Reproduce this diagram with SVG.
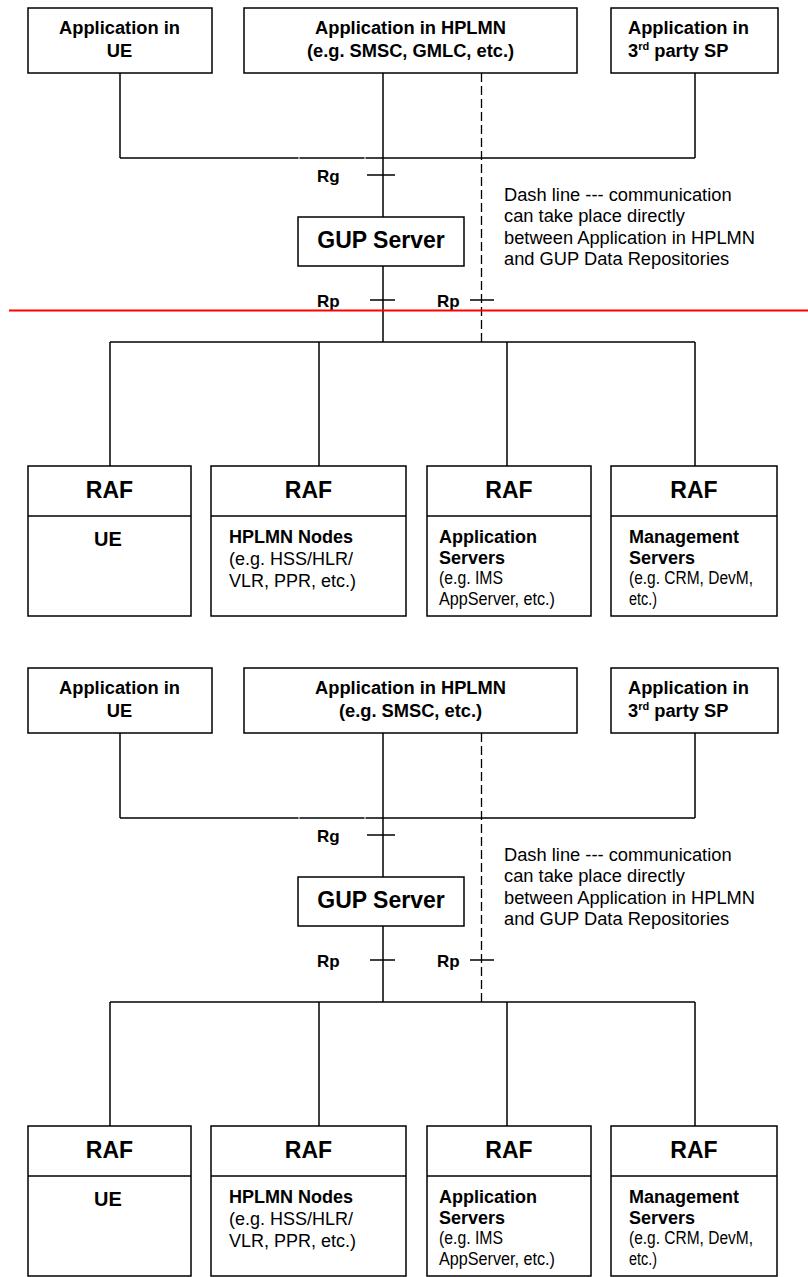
<svg xmlns="http://www.w3.org/2000/svg" width="808" height="1277" viewBox="0 0 808 1277">
<style>
.box{fill:#fff;stroke:#000;stroke-width:1.5}
.ln{stroke:#000;stroke-width:1.5;fill:none}
.dash{stroke:#000;stroke-width:1.3;stroke-dasharray:9 4;fill:none}
text{font-family:"Liberation Sans",Arial,sans-serif;fill:#000}
.t{font-size:18.3px;font-weight:bold}
.c{text-anchor:middle}
.g{font-size:23px;font-weight:bold}
.r{font-size:23px;font-weight:bold}
.u{font-size:20px;font-weight:bold}
.b{font-size:18px;font-weight:bold}
.n{font-size:18px}
.s{font-size:17.5px}
.d{font-size:18.3px}
.lab{font-size:17px;font-weight:bold}
</style>
<!-- ===== Top diagram ===== -->
<g id="connectors-top">
<line class="ln" x1="120" y1="73" x2="120" y2="158"/>
<line class="ln" x1="695" y1="73" x2="695" y2="158"/>
<line class="ln" x1="120" y1="158" x2="298.5" y2="158"/>
<line class="ln" x1="299.5" y1="158" x2="364.5" y2="158"/>
<line class="ln" x1="365.5" y1="158" x2="695" y2="158"/>
<line class="ln" x1="383" y1="73" x2="383" y2="217"/>
<line class="ln" x1="367" y1="175" x2="395" y2="175"/>
<line class="ln" x1="383" y1="266" x2="383" y2="342"/>
<line class="ln" x1="370" y1="300" x2="395" y2="300"/>
<line class="dash" x1="481.5" y1="73" x2="481.5" y2="342"/>
<line class="ln" x1="470" y1="300" x2="494" y2="300"/>
<line class="ln" x1="110" y1="342" x2="695" y2="342"/>
<line class="ln" x1="110" y1="342" x2="110" y2="466"/>
<line class="ln" x1="319" y1="342" x2="319" y2="466"/>
<line class="ln" x1="507" y1="342" x2="507" y2="466"/>
<line class="ln" x1="695" y1="342" x2="695" y2="466"/>
<text class="lab" x="317" y="182">Rg</text>
<text class="lab" x="317" y="307">Rp</text>
<text class="lab" x="437" y="307">Rp</text>
</g>
<g id="app-ue-top"><rect class="box" x="28" y="8" width="184" height="65"/><text class="t c" x="119.5" y="34">Application in</text><text class="t c" x="119.5" y="57">UE</text></g>
<g id="app-hplmn-top"><rect class="box" x="244" y="8" width="333" height="65"/><text class="t c" x="410.5" y="34">Application in HPLMN</text><text class="t c" x="410.5" y="57">(e.g. SMSC, GMLC, etc.)</text></g>
<g id="app-3rd-top"><rect class="box" x="611" y="8" width="167" height="65"/><text class="t" x="628" y="34">Application in</text><text class="t" x="628" y="57">3<tspan font-size="11" dy="-7">rd</tspan><tspan dy="7"> party SP</tspan></text></g>
<g id="gup-top"><rect class="box" x="298" y="217" width="166" height="49"/><text class="g c" x="381" y="248">GUP Server</text></g>
<g id="note-top"><text class="d" x="504" y="201">Dash line --- communication</text><text class="d" x="504" y="222">can take place directly</text><text class="d" x="504" y="244">between Application in HPLMN</text><text class="d" x="504" y="265">and GUP Data Repositories</text></g>
<g id="raf-ue-top"><rect class="box" x="28" y="466" width="163" height="150"/><line class="ln" x1="28" y1="516" x2="191" y2="516"/><text class="r c" x="109.5" y="498">RAF</text><text class="u c" x="108" y="546">UE</text></g>
<g id="raf-hplmn-top"><rect class="box" x="211" y="466" width="195" height="150"/><line class="ln" x1="211" y1="516" x2="406" y2="516"/><text class="r c" x="308.5" y="498">RAF</text><text class="b" x="229" y="543">HPLMN Nodes</text><text class="n" x="229" y="565">(e.g. HSS/HLR/</text><text class="n" x="229" y="587">VLR, PPR, etc.)</text></g>
<g id="raf-as-top"><rect class="box" x="427" y="466" width="164" height="150"/><line class="ln" x1="427" y1="516" x2="591" y2="516"/><text class="r c" x="509" y="498">RAF</text><text class="b" x="439" y="543">Application</text><text class="b" x="439" y="564">Servers</text><text class="s" x="439" y="584" textLength="64" lengthAdjust="spacingAndGlyphs">(e.g. IMS</text><text class="s" x="439" y="605" textLength="116" lengthAdjust="spacingAndGlyphs">AppServer, etc.)</text></g>
<g id="raf-ms-top"><rect class="box" x="611" y="466" width="166" height="150"/><line class="ln" x1="611" y1="516" x2="777" y2="516"/><text class="r c" x="694" y="498">RAF</text><text class="b" x="629" y="543">Management</text><text class="b" x="629" y="564">Servers</text><text class="s" x="629" y="584" textLength="124" lengthAdjust="spacingAndGlyphs">(e.g. CRM, DevM,</text><text class="s" x="629" y="605" textLength="28" lengthAdjust="spacingAndGlyphs">etc.)</text></g>
<line id="red-line" x1="9" y1="310.5" x2="808" y2="310.5" stroke="#f00" stroke-width="2"/>
<!-- ===== Bottom diagram ===== -->
<g transform="translate(0,660)">
<g id="connectors-bottom">
<line class="ln" x1="120" y1="73" x2="120" y2="158"/>
<line class="ln" x1="695" y1="73" x2="695" y2="158"/>
<line class="ln" x1="120" y1="158" x2="298.5" y2="158"/>
<line class="ln" x1="299.5" y1="158" x2="364.5" y2="158"/>
<line class="ln" x1="365.5" y1="158" x2="695" y2="158"/>
<line class="ln" x1="383" y1="73" x2="383" y2="217"/>
<line class="ln" x1="367" y1="175" x2="395" y2="175"/>
<line class="ln" x1="383" y1="266" x2="383" y2="342"/>
<line class="ln" x1="370" y1="300" x2="395" y2="300"/>
<line class="dash" x1="481.5" y1="73" x2="481.5" y2="342"/>
<line class="ln" x1="470" y1="300" x2="494" y2="300"/>
<line class="ln" x1="110" y1="342" x2="695" y2="342"/>
<line class="ln" x1="110" y1="342" x2="110" y2="466"/>
<line class="ln" x1="319" y1="342" x2="319" y2="466"/>
<line class="ln" x1="507" y1="342" x2="507" y2="466"/>
<line class="ln" x1="695" y1="342" x2="695" y2="466"/>
<text class="lab" x="317" y="182">Rg</text>
<text class="lab" x="317" y="307">Rp</text>
<text class="lab" x="437" y="307">Rp</text>
</g>
<g id="app-ue-bottom"><rect class="box" x="28" y="8" width="184" height="65"/><text class="t c" x="119.5" y="34">Application in</text><text class="t c" x="119.5" y="57">UE</text></g>
<g id="app-hplmn-bottom"><rect class="box" x="244" y="8" width="333" height="65"/><text class="t c" x="410.5" y="34">Application in HPLMN</text><text class="t c" x="410.5" y="57">(e.g. SMSC, etc.)</text></g>
<g id="app-3rd-bottom"><rect class="box" x="611" y="8" width="167" height="65"/><text class="t" x="628" y="34">Application in</text><text class="t" x="628" y="57">3<tspan font-size="11" dy="-7">rd</tspan><tspan dy="7"> party SP</tspan></text></g>
<g id="gup-bottom"><rect class="box" x="298" y="217" width="166" height="49"/><text class="g c" x="381" y="248">GUP Server</text></g>
<g id="note-bottom"><text class="d" x="504" y="201">Dash line --- communication</text><text class="d" x="504" y="222">can take place directly</text><text class="d" x="504" y="244">between Application in HPLMN</text><text class="d" x="504" y="265">and GUP Data Repositories</text></g>
<g id="raf-ue-bottom"><rect class="box" x="28" y="466" width="163" height="150"/><line class="ln" x1="28" y1="516" x2="191" y2="516"/><text class="r c" x="109.5" y="498">RAF</text><text class="u c" x="108" y="546">UE</text></g>
<g id="raf-hplmn-bottom"><rect class="box" x="211" y="466" width="195" height="150"/><line class="ln" x1="211" y1="516" x2="406" y2="516"/><text class="r c" x="308.5" y="498">RAF</text><text class="b" x="229" y="543">HPLMN Nodes</text><text class="n" x="229" y="565">(e.g. HSS/HLR/</text><text class="n" x="229" y="587">VLR, PPR, etc.)</text></g>
<g id="raf-as-bottom"><rect class="box" x="427" y="466" width="164" height="150"/><line class="ln" x1="427" y1="516" x2="591" y2="516"/><text class="r c" x="509" y="498">RAF</text><text class="b" x="439" y="543">Application</text><text class="b" x="439" y="564">Servers</text><text class="s" x="439" y="584" textLength="64" lengthAdjust="spacingAndGlyphs">(e.g. IMS</text><text class="s" x="439" y="605" textLength="116" lengthAdjust="spacingAndGlyphs">AppServer, etc.)</text></g>
<g id="raf-ms-bottom"><rect class="box" x="611" y="466" width="166" height="150"/><line class="ln" x1="611" y1="516" x2="777" y2="516"/><text class="r c" x="694" y="498">RAF</text><text class="b" x="629" y="543">Management</text><text class="b" x="629" y="564">Servers</text><text class="s" x="629" y="584" textLength="124" lengthAdjust="spacingAndGlyphs">(e.g. CRM, DevM,</text><text class="s" x="629" y="605" textLength="28" lengthAdjust="spacingAndGlyphs">etc.)</text></g>
</g>
</svg>
